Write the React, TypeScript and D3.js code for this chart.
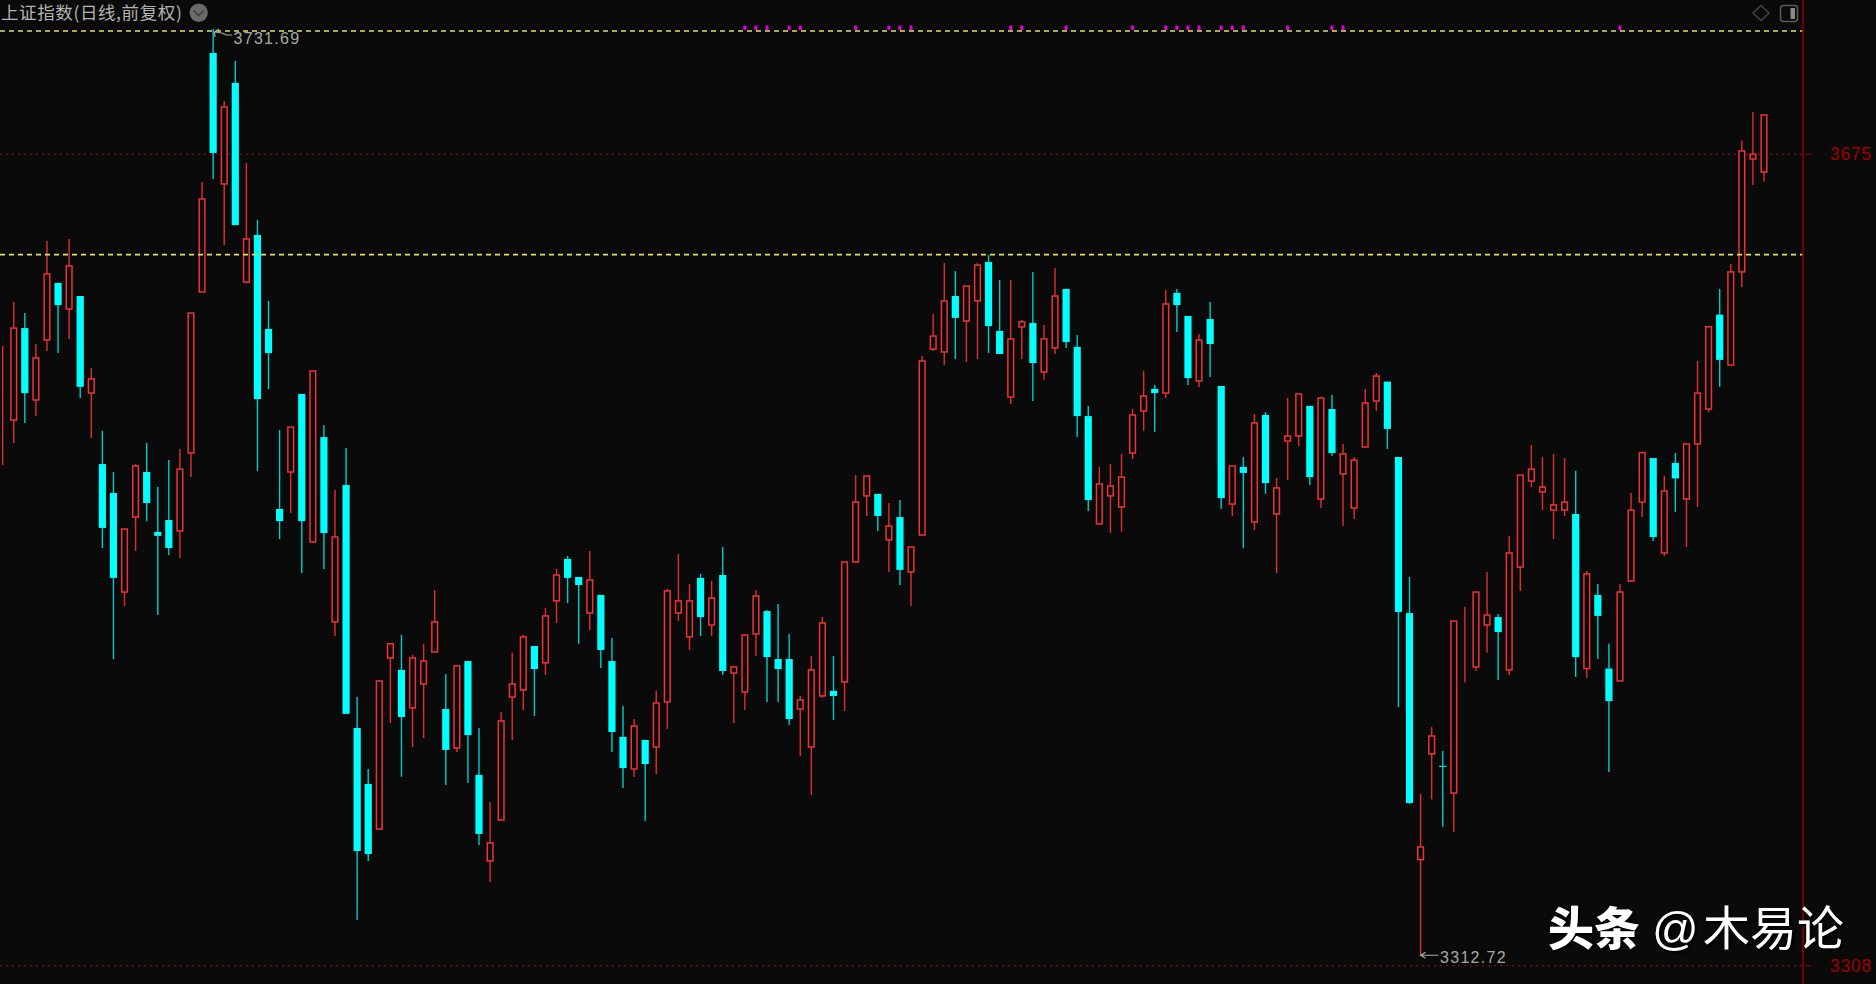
import React from "react";
import * as d3 from "d3";

const highs = [
  3588.3,3608.2,3603.2,3589.2,3635.8,3616.8,3636.7,3610.9,3578.3,3549.9,
  3531.3,3505.5,3534.9,3544.4,3524.5,3536.7,3541.7,3603.2,3662.5,3731.69,
  3699.1,3717.2,3671.1,3645.3,3608.7,3550.3,3551.6,3566.6,3577.0,3552.6,
  3523.2,3542.2,3429.5,3397.0,3436.8,3454.0,3457.6,3448.6,3453.6,3477.9,
  3439.9,3443.6,3445.8,3415.5,3382.0,3422.8,3449.5,3457.6,3452.6,3469.8,
  3487.4,3493.3,3483.8,3495.6,3475.7,3456.2,3425.5,3419.6,3410.1,3432.3,
  3478.4,3494.2,3480.7,3485.2,3482.0,3497.4,3443.1,3457.6,3477.9,3468.9,
  3471.6,3458.0,3430.0,3448.1,3465.7,3448.1,3490.6,3529.9,3529.5,3521.4,
  3517.3,3518.6,3497.4,3583.8,3602.8,3625.8,3622.2,3615.4,3625.8,3629.5,
  3618.2,3618.2,3600.1,3621.8,3597.8,3623.6,3614.1,3593.3,3561.2,3533.6,
  3534.9,3539.5,3559.8,3577.0,3570.7,3613.6,3614.1,3601.9,3593.7,3608.2,
  3570.2,3534.0,3538.1,3557.5,3558.4,3528.6,3564.8,3566.6,3561.2,3565.2,
  3566.1,3544.0,3538.1,3568.8,3576.1,3572.2,3538.1,3483.8,3385.7,3416.0,
  3405.1,3463.9,3470.3,3477.0,3486.1,3467.1,3502.4,3529.9,3543.5,3538.1,
  3539.5,3537.6,3531.8,3486.5,3480.7,3453.6,3480.7,3521.8,3540.1,3537.6,
  3529.5,3539.9,3544.0,3581.5,3597.0,3614.1,3625.4,3681.2,3694.1,3692.8,
];

const bodyTops = [
  3566.6,3596.4,3596.4,3582.9,3620.9,3616.8,3624.5,3610.9,3573.4,3534.9,
  3521.8,3505.5,3534.0,3531.3,3504.2,3509.6,3532.6,3603.2,3654.8,3720.8,
  3696.4,3707.3,3636.7,3638.5,3596.0,3514.6,3551.6,3566.6,3577.0,3547.1,
  3501.9,3525.4,3415.5,3390.2,3436.8,3453.6,3441.8,3447.2,3445.8,3463.5,
  3424.1,3443.6,3445.8,3394.3,3363.5,3418.7,3435.4,3456.7,3452.6,3466.2,
  3484.7,3492.0,3483.8,3482.5,3475.7,3445.8,3411.5,3416.4,3410.1,3426.8,
  3477.5,3473.0,3473.0,3483.4,3474.3,3484.7,3443.1,3457.6,3475.2,3468.4,
  3446.7,3446.7,3428.2,3441.8,3463.0,3432.3,3490.6,3517.7,3529.5,3521.4,
  3506.9,3510.9,3497.4,3581.5,3592.8,3608.7,3610.9,3615.4,3624.9,3626.3,
  3595.1,3591.5,3599.2,3598.7,3591.5,3610.9,3614.1,3587.9,3556.6,3525.9,
  3525.0,3529.0,3557.1,3565.7,3568.9,3607.3,3612.3,3601.9,3591.0,3600.5,
  3570.2,3534.0,3533.6,3553.5,3557.1,3524.1,3547.6,3566.6,3561.2,3564.8,
  3559.8,3539.5,3536.7,3562.5,3574.7,3572.2,3538.1,3467.5,3361.7,3411.9,
  3398.4,3463.9,3447.6,3477.0,3466.6,3465.7,3494.7,3529.9,3532.6,3524.5,
  3516.4,3517.7,3512.3,3485.2,3475.7,3442.4,3477.0,3514.1,3540.1,3537.6,
  3522.7,3535.4,3544.0,3567.0,3597.0,3602.5,3621.8,3676.5,3675.1,3692.8,
];

const bodyBottoms = [
  3566.6,3554.8,3567.0,3563.9,3591.0,3606.8,3605.0,3569.8,3567.0,3506.0,
  3483.4,3477.0,3510.9,3517.3,3502.4,3496.9,3504.6,3539.9,3612.7,3675.6,
  3661.6,3643.0,3617.2,3564.3,3585.1,3509.1,3531.3,3509.1,3499.7,3503.7,
  3463.5,3421.9,3359.9,3358.5,3369.8,3447.2,3420.5,3424.6,3435.4,3449.9,
  3405.6,3406.5,3412.3,3367.6,3355.4,3373.9,3429.5,3432.7,3442.2,3445.0,
  3473.0,3483.4,3480.2,3467.5,3450.8,3413.7,3397.4,3397.0,3399.2,3406.9,
  3427.3,3467.5,3456.7,3465.7,3462.1,3441.3,3440.4,3431.8,3458.0,3447.6,
  3442.2,3419.6,3424.1,3406.9,3430.0,3430.0,3436.3,3490.6,3520.5,3511.4,
  3500.6,3487.0,3486.1,3502.8,3586.9,3585.6,3601.0,3599.6,3608.7,3597.3,
  3584.7,3565.2,3596.9,3580.6,3576.5,3587.4,3590.1,3556.6,3518.6,3507.8,
  3520.5,3515.5,3539.9,3558.9,3567.0,3567.0,3606.8,3573.8,3572.5,3589.2,
  3519.5,3516.8,3530.9,3508.7,3526.3,3512.3,3545.3,3547.6,3529.0,3519.1,
  3539.9,3530.4,3515.0,3542.6,3563.4,3550.8,3468.0,3381.6,3356.0,3403.8,
  3398.3,3386.1,3447.6,3443.1,3462.1,3458.9,3441.8,3488.3,3527.2,3522.3,
  3514.1,3514.1,3447.6,3442.4,3466.2,3427.7,3436.8,3482.0,3517.7,3501.9,
  3494.7,3528.4,3519.1,3544.0,3559.8,3582.0,3579.7,3621.8,3672.9,3667.0,
];

const lows = [
  3534.5,3544.4,3553.5,3556.6,3586.0,3585.1,3591.5,3564.8,3546.7,3496.9,
  3446.7,3470.7,3495.6,3509.1,3466.6,3493.8,3492.4,3529.0,3612.7,3663.8,
  3634.0,3643.0,3617.2,3531.8,3568.8,3501.0,3512.8,3485.6,3499.2,3487.4,
  3457.1,3421.9,3328.7,3355.4,3369.8,3417.8,3393.4,3406.9,3411.0,3449.9,
  3389.7,3404.7,3390.6,3362.6,3345.9,3373.9,3410.1,3423.6,3420.9,3439.5,
  3463.0,3472.0,3453.6,3459.8,3442.7,3404.7,3388.4,3393.4,3373.5,3394.7,
  3415.1,3463.9,3450.8,3457.1,3457.1,3439.5,3417.8,3423.6,3448.1,3427.3,
  3427.3,3416.9,3402.9,3385.2,3429.1,3419.1,3423.2,3490.6,3511.4,3504.6,
  3486.1,3480.2,3470.7,3502.8,3586.0,3579.7,3582.4,3581.1,3582.4,3585.1,
  3584.7,3562.1,3582.4,3563.4,3573.0,3584.7,3587.4,3547.1,3513.7,3507.8,
  3503.7,3504.2,3537.2,3549.9,3549.4,3564.8,3594.6,3570.7,3569.8,3574.3,
  3514.6,3511.4,3496.9,3505.1,3521.4,3485.6,3527.7,3543.1,3525.4,3515.0,
  3538.5,3506.9,3510.0,3542.6,3558.9,3541.7,3425.0,3381.2,3312.72,3383.2,
  3370.8,3368.5,3436.1,3441.3,3449.6,3437.2,3439.5,3477.5,3524.5,3514.1,
  3501.0,3511.4,3438.6,3438.1,3446.7,3395.6,3436.8,3481.6,3510.9,3500.1,
  3493.3,3513.2,3497.4,3515.5,3558.4,3569.8,3579.7,3615.0,3661.1,3662.7,
];

const fallingDays = [
  2,5,7,9,10,13,14,15,19,21,23,24,25,27,29,31,32,33,36,40,42,43,48,51,52,54,55,56,58,
  63,65,69,70,71,75,79,81,86,89,90,93,96,97,98,104,106,107,109,110,112,114,118,120,
  125,126,127,130,135,142,144,145,149,151,155,
];

const signalDays = [67,68,69,71,72,77,80,81,82,91,92,96,102,105,106,107,108,110,111,112,116,120,121,146];

const gridTicks = [3675, 3308];
const resistanceLevels = [3730.8, 3629.6];
const peakLabel = "3731.69";
const troughLabel = "3312.72";
const peakDay = 19;
const troughDay = 128;
const peakValue = 3731.69;
const troughValue = 3312.72;
const titleText = "上证指数(日线,前复权)";

const WIDTH = 1876;
const HEIGHT = 984;
const AXIS_X = 1803;
const BG = "#0a0a0a";
const RED = "#ee3333";
const RED_WICK = "#e02e2e";
const CYAN = "#00ffff";
const CYAN_WICK = "#00cccc";
const BODY_W = 7.2;

export default function App() {
  const x = d3.scaleLinear().domain([0, highs.length - 1]).range([2.67, 1764]);
  const y = d3.scaleLinear().domain([3308, 3675]).range([965.7, 154.3]);
  const falling = new Set(fallingDays);
  const sans = "'Liberation Sans', Arial, sans-serif";
  const cjk = "'Noto Sans CJK SC', sans-serif";

  const peakX = x(peakDay) + 1;
  const peakY = y(peakValue) + 3;
  const troughX = x(troughDay);
  const troughY = y(troughValue);

  return (
    <svg
      width={WIDTH}
      height={HEIGHT}
      style={{ position: "fixed", left: 0, top: 0, display: "block" }}
    >
      <rect x={0} y={0} width={WIDTH} height={HEIGHT} fill={BG} />

      {gridTicks.map((t) => (
        <g key={t}>
          <line
            x1={0}
            x2={AXIS_X}
            y1={y(t)}
            y2={y(t)}
            stroke="#7a0c0c"
            strokeWidth={1.2}
            strokeDasharray="2 4"
          />
          <line x1={AXIS_X} x2={AXIS_X + 8} y1={y(t)} y2={y(t)} stroke="#8a0000" strokeWidth={1} />
          <text
            x={1851}
            y={y(t) + 6}
            textAnchor="middle"
            fill="#a00000"
            fontFamily={sans}
            fontSize={17.5}
            letterSpacing={0.8}
          >
            {t}
          </text>
        </g>
      ))}

      {highs.map((h, i) => {
        const down = falling.has(i);
        const cx = x(i);
        const top = y(bodyTops[i]);
        const bottom = y(bodyBottoms[i]);
        return (
          <g key={i}>
            <line
              x1={cx}
              x2={cx}
              y1={y(h)}
              y2={top}
              stroke={down ? CYAN_WICK : RED_WICK}
              strokeWidth={1.4}
            />
            <line
              x1={cx}
              x2={cx}
              y1={bottom}
              y2={y(lows[i])}
              stroke={down ? CYAN_WICK : RED_WICK}
              strokeWidth={1.4}
            />
            {down ? (
              <rect
                x={cx - BODY_W / 2}
                y={top}
                width={BODY_W}
                height={Math.max(bottom - top, 1)}
                fill={CYAN}
              />
            ) : (
              <rect
                x={cx - BODY_W / 2 + 0.75}
                y={top}
                width={BODY_W - 1.5}
                height={bottom - top}
                fill={BG}
                stroke={RED}
                strokeWidth={1.5}
              />
            )}
          </g>
        );
      })}

      {resistanceLevels.map((v) => (
        <line
          key={v}
          x1={0}
          x2={AXIS_X}
          y1={y(v)}
          y2={y(v)}
          stroke="#e0e068"
          strokeWidth={1.6}
          strokeDasharray="5 4"
        />
      ))}

      {signalDays.map((d) => (
        <rect key={d} x={x(d) - 1.5} y={25.5} width={3} height={4.5} fill="#e000d8" />
      ))}

      <line x1={AXIS_X} x2={AXIS_X} y1={0} y2={HEIGHT} stroke="#8a0000" strokeWidth={1.6} />

      {/* peak and trough callouts */}
      <path
        d={`M${peakX + 5},${peakY - 3} L${peakX},${peakY} L${peakX + 1},${peakY + 5} M${peakX},${peakY} L${peakX + 8},${peakY + 1} L${peakX + 12},${peakY + 3} L${peakX + 18},${peakY + 3}`}
        fill="none"
        stroke="#a8a8a8"
        strokeWidth={1.1}
      />
      <text x={233.5} y={43.5} fill="#a8a8a8" fontFamily={sans} fontSize={16} letterSpacing={1.3}>
        {peakLabel}
      </text>
      <path
        d={`M${troughX + 5},${troughY - 3} L${troughX},${troughY} L${troughX + 5},${troughY + 3} M${troughX},${troughY} L${troughX + 18},${troughY}`}
        fill="none"
        stroke="#a8a8a8"
        strokeWidth={1.1}
      />
      <text x={1440} y={963} fill="#a8a8a8" fontFamily={sans} fontSize={16} letterSpacing={1.3}>
        {troughLabel}
      </text>

      {/* title */}
      <text x={1} y={19} fill="#b4b4b4" fontFamily={cjk} fontSize={17.5} letterSpacing={0.6}>
        {titleText}
      </text>
      <circle cx={198.7} cy={12.7} r={9.2} fill="#6a6a6a" />
      <path d="M193.5,10.5 L198.7,15.5 L203.9,10.5" fill="none" stroke="#3a3a3a" strokeWidth={1.4} />

      {/* top right tool icons */}
      <path d="M1761,5.5 L1769,13 L1761,20.5 L1753,13 Z" fill="none" stroke="#484848" strokeWidth={1.3} />
      <rect x={1780.5} y={5.5} width={17} height={16} rx={3} fill="none" stroke="#5a5a5a" strokeWidth={1.5} />
      <rect x={1790.5} y={8} width={4.5} height={11} fill="#8a8a8a" />

      {/* watermark */}
      <g style={{ filter: "drop-shadow(2px 2px 1px #000)" }}>
        <text x={1548} y={945} fill="#ffffff" fontFamily={cjk} fontWeight={900} fontSize={46}>
          头条
        </text>
        <text x={1652} y={945} fill="#ffffff" fontFamily={sans} fontSize={46}>
          @
        </text>
        <text x={1703} y={945} fill="#ffffff" fontFamily={cjk} fontWeight={400} fontSize={47}>
          木易论
        </text>
      </g>
    </svg>
  );
}
